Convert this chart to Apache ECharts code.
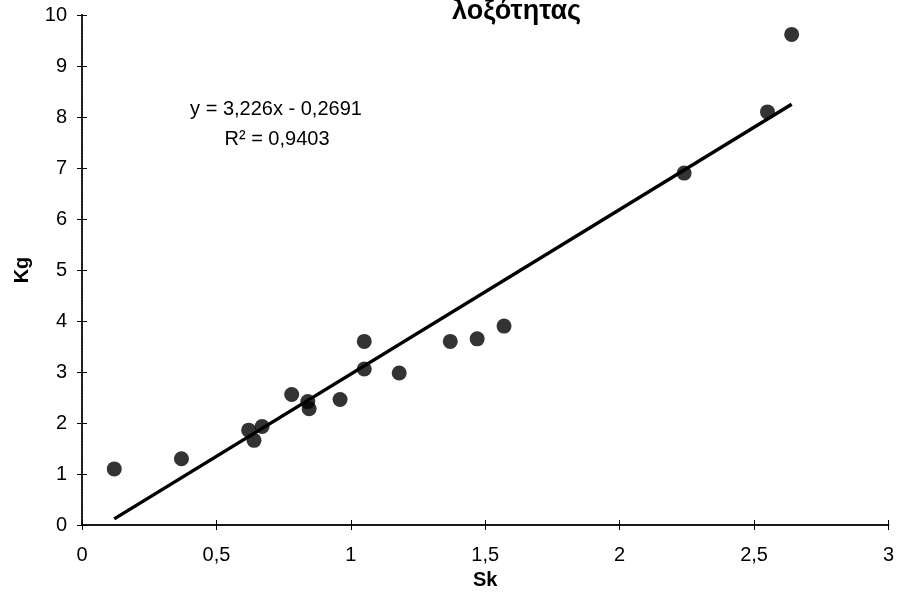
<!DOCTYPE html>
<html>
<head>
<meta charset="utf-8">
<script src="https://cdn.jsdelivr.net/npm/echarts@6/dist/echarts.min.js"></script>
<style>
  html, body { margin: 0; padding: 0; background: #fff; }
  #chart { width: 897px; height: 595px; }
</style>
</head>
<body>
<div id="chart"></div>
<script>
/* ===== Data: Sk (x) vs Kg (y) ===== */
const skValues = [0.12, 0.37, 0.62, 0.64, 0.67, 0.78, 0.84, 0.845, 0.96, 1.05, 1.05, 1.18, 1.37, 1.47, 1.57, 2.24, 2.55, 2.64]
const kgValues = [1.1, 1.3, 1.86, 1.66, 1.93, 2.56, 2.42, 2.28, 2.46, 3.6, 3.06, 2.98, 3.6, 3.65, 3.9, 6.9, 8.1, 9.62]

// trend line end points
const trendX = [0.12, 2.64]
const trendY = [0.12, 8.25]

const xTicks = ['0', '0,5', '1', '1,5', '2', '2,5', '3']
const titleText = 'λοξότητας'
const eqLines = ['y = 3,226x - 0,2691', 'R² = 0,9403']

const FONT = "'Liberation Sans', Arial, sans-serif"

const chart = echarts.init(document.getElementById('chart'), null, { renderer: 'canvas' })

const points = skValues.map((x, i) => [x, kgValues[i]])
const trend = trendX.map((x, i) => [x, trendY[i]])

// 0.5 -> "0,5"
const fmtX = v => xTicks[Math.round(v * 2)] ?? String(v).replace('.', ',')

// hidden helper axes: only the inner half of the cross ticks
const innerTicksX = {
  type: 'value', position: 'bottom', min: 0, max: 3, interval: 0.5,
  axisLine: { show: false }, axisLabel: { show: false }, splitLine: { show: false },
  axisTick: { show: true, inside: true, length: 5, lineStyle: { color: '#000' } }
}
const innerTicksY = {
  type: 'value', position: 'left', min: 0, max: 10, interval: 1,
  axisLine: { show: false }, axisLabel: { show: false }, splitLine: { show: false },
  axisTick: { show: true, inside: true, length: 5, lineStyle: { color: '#000' } }
}

chart.setOption({
  animation: false,
  backgroundColor: '#fff',
  textStyle: { fontFamily: FONT },
  title: {
    text: titleText,
    left: 448,
    top: -2,
    padding: [0, 4],
    backgroundColor: '#fff',
    textStyle: { fontFamily: FONT, fontSize: 27, fontWeight: 'bold', color: '#000' }
  },
  grid: { left: 82, right: 8, top: 15, bottom: 69, containLabel: false },
  xAxis: [
    {
      type: 'value',
      min: 0, max: 3, interval: 0.5,
      name: 'Sk',
      nameLocation: 'middle',
      nameGap: 45,
      nameTextStyle: { fontFamily: FONT, fontSize: 20, fontWeight: 'bold', color: '#000' },
      axisLine: { show: true, onZero: false, lineStyle: { color: '#000', width: 2 } },
      axisTick: { show: true, length: 5, lineStyle: { color: '#000' } },
      axisLabel: { margin: 20, fontSize: 20, color: '#000', fontFamily: FONT, formatter: fmtX },
      splitLine: { show: false }
    },
    {
      // top frame line
      type: 'value', position: 'top', min: 0, max: 3,
      axisLine: { show: true, lineStyle: { color: '#222', width: 1.5 } },
      axisTick: { show: false }, axisLabel: { show: false }, splitLine: { show: false }
    },
    innerTicksX
  ],
  yAxis: [
    {
      type: 'value',
      min: 0, max: 10, interval: 1,
      name: 'Kg',
      nameLocation: 'middle',
      nameRotate: 90,
      nameGap: 50,
      nameTextStyle: { fontFamily: FONT, fontSize: 20, fontWeight: 'bold', color: '#000' },
      axisLine: { show: true, onZero: false, lineStyle: { color: '#000', width: 2 } },
      axisTick: { show: true, length: 5, lineStyle: { color: '#000' } },
      axisLabel: { margin: 15, fontSize: 20, color: '#000', fontFamily: FONT },
      splitLine: { show: false }
    },
    {
      // right frame, dotted
      type: 'value', position: 'right', min: 0, max: 10,
      axisLine: { show: true, lineStyle: { color: '#333', width: 1.5, type: 'dotted' } },
      axisTick: { show: false }, axisLabel: { show: false }, splitLine: { show: false }
    },
    innerTicksY
  ],
  graphic: [
    {
      type: 'text', x: 276, y: 109,
      style: {
        text: eqLines[0], fill: '#000', font: `20px ${FONT}`,
        align: 'center', verticalAlign: 'middle'
      }
    },
    {
      type: 'text', x: 277, y: 139,
      style: {
        text: eqLines[1], fill: '#000', font: `20px ${FONT}`,
        align: 'center', verticalAlign: 'middle'
      }
    }
  ],
  series: [
    {
      name: 'trend',
      type: 'line',
      data: trend,
      symbol: 'none',
      lineStyle: { color: '#000', width: 3.5 },
      z: 3
    },
    {
      name: 'Kg',
      type: 'scatter',
      data: points,
      symbol: 'circle',
      symbolSize: 15,
      itemStyle: { color: '#000' },
      z: 4
    }
  ]
})
</script>
</body>
</html>
